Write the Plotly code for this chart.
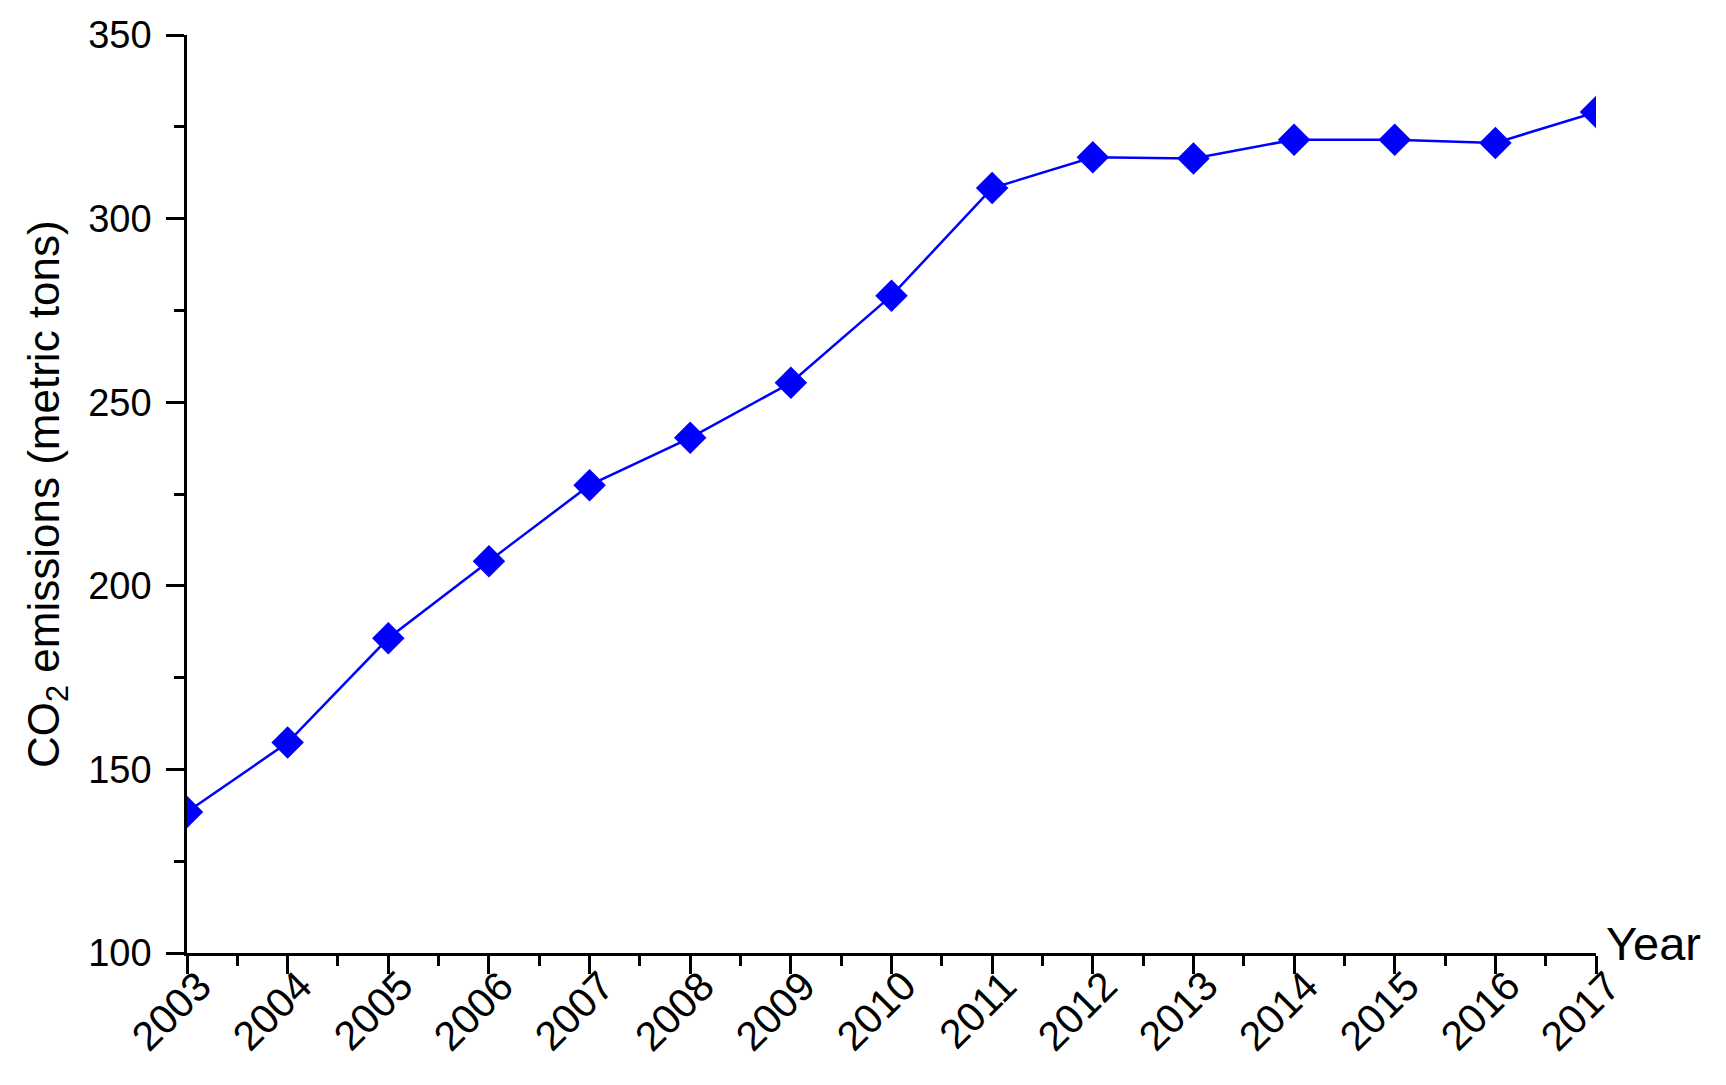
import plotly.graph_objects as go

years = list(range(2003, 2018))
co2 = [138.4, 157.3, 185.7, 206.7, 227.4, 240.3, 255.3, 279.0,
       308.3, 316.7, 316.4, 321.5, 321.5, 320.6, 329.0]
year_labels = [str(y) for y in years]

y_title = "CO<sub>2</sub> emissions (metric tons)"
x_title = "Year"

FONT = "Liberation Sans, Arial, sans-serif"

fig = go.Figure()
fig.add_trace(go.Scatter(
    x=years, y=co2, mode="lines+markers",
    line=dict(color="#0000FF", width=2.5),
    marker=dict(symbol="diamond", size=25, color="#0000FF"),
    cliponaxis=True, showlegend=False,
))

axis_common = dict(
    showline=True, linecolor="black", linewidth=2.5,
    ticks="outside", ticklen=18, tickwidth=2.5, tickcolor="black",
    showgrid=False, zeroline=False, mirror=False, automargin=False,
)

fig.update_xaxes(
    range=[2003, 2017], tickmode="linear", tick0=2003, dtick=1,
    showticklabels=False,
    minor=dict(ticks="outside", ticklen=10, tickwidth=2.5, tickcolor="black", dtick=0.5, tick0=2003),
    **axis_common,
)
fig.update_yaxes(
    range=[100, 350], tickmode="linear", tick0=100, dtick=50,
    ticklabelstandoff=7,
    tickfont=dict(family=FONT, size=38, color="black"),
    minor=dict(ticks="outside", ticklen=10, tickwidth=2.5, tickcolor="black", dtick=25, tick0=100),
    **axis_common,
)

# rotated x tick labels
for yr, lab in zip(years, year_labels):
    fig.add_annotation(
        text=lab, textangle=-45, x=yr, xref="x", y=0, yref="paper",
        xanchor="right", yanchor="top", xshift=36, yshift=-7,
        showarrow=False, font=dict(family=FONT, size=41, color="black"),
    )

fig.add_annotation(
    text=y_title, textangle=-90, xref="paper", yref="paper",
    x=0, y=0.5, xshift=-140, xanchor="center", yanchor="middle",
    showarrow=False, font=dict(family=FONT, size=44, color="black"),
)
fig.add_annotation(
    text=x_title, xref="paper", yref="paper",
    x=1, y=0, xshift=8, yshift=10, xanchor="left", yanchor="middle",
    showarrow=False, font=dict(family=FONT, size=47, color="black"),
)

fig.update_layout(
    width=1726, height=1085,
    margin=dict(l=179, r=138, t=27, b=140),
    plot_bgcolor="white", paper_bgcolor="white",
)

fig.write_html("out.html")
